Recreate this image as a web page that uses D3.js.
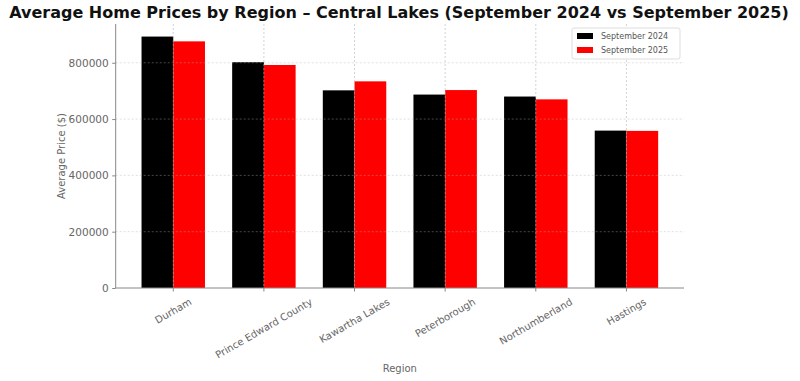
<!DOCTYPE html>
<html><head><meta charset="utf-8">
<script src="https://cdnjs.cloudflare.com/ajax/libs/d3/7.8.5/d3.min.js"></script>
<style>body{margin:0;background:#fff}svg{display:block}</style>
</head><body><svg id="c" width="800" height="381"></svg>
<script>
const regions = ["Durham","Prince Edward County","Kawartha Lakes","Peterborough","Northumberland","Hastings"];
const sep2024 = [893000, 802000, 702000, 687000, 680000, 559000];
const sep2025 = [876000, 792000, 734000, 703000, 670000, 558000];
const seriesNames = ["September 2024","September 2025"];
const seriesColors = ["#000000","#ff0000"];
const yTicks = [0,200000,400000,600000,800000];

(function(){
const svg = d3.select("#c");
const F = "DejaVu Sans, sans-serif";
const pL = 115.7, pR = 684, pT = 24, pB = 288;

const x = d3.scaleLinear().domain([-0.635, regions.length - 1 + 0.635]).range([pL, pR]);
const bw = 0.35;
const ymax = d3.max(sep2024.concat(sep2025)) * 1.05;
const y = d3.scaleLinear().domain([0, ymax]).range([pB, pT]);

const data = [sep2024, sep2025];
data.forEach((vals, s) => {
  svg.append("g").selectAll("rect").data(vals).join("rect")
    .attr("x", (d,i) => x(i + (s === 0 ? -bw : 0)))
    .attr("width", x(bw) - x(0))
    .attr("y", d => y(d))
    .attr("height", d => y(0) - y(d))
    .attr("fill", seriesColors[s]);
});

const grid = svg.append("g").attr("stroke", "#b0b0b0").attr("stroke-opacity", 0.5)
  .attr("stroke-dasharray", "2,2").attr("stroke-width", 0.8);
yTicks.filter(t => t > 0).forEach(t => grid.append("line").attr("x1", pL).attr("x2", pR).attr("y1", y(t)).attr("y2", y(t)));
regions.forEach((r,i) => grid.append("line").attr("x1", x(i)).attr("x2", x(i)).attr("y1", pT).attr("y2", pB).attr("stroke-opacity", 0.7));

const yAxis = svg.append("g").attr("transform", `translate(${pL},0)`)
  .call(d3.axisLeft(y).tickValues(yTicks).tickFormat(d3.format("d")).tickSize(3.5).tickPadding(3.5));
yAxis.select(".domain").attr("stroke", "#888").attr("d", `M0,${pT}V${pB}`);
yAxis.selectAll(".tick line").attr("stroke", "#888");
yAxis.selectAll("text").attr("font-family", F).attr("font-size", 10.5).attr("fill", "#666");

const xAxisG = svg.append("g").attr("transform", `translate(0,${pB})`);
xAxisG.append("line").attr("x1", pL).attr("x2", pR).attr("y1", 0).attr("y2", 0).attr("stroke", "#888");
regions.forEach((r,i) => {
  xAxisG.append("line").attr("x1", x(i)).attr("x2", x(i)).attr("y1", 0).attr("y2", 3.5).attr("stroke", "#888");
  const t = xAxisG.append("text").text(r).attr("font-family", F).attr("font-size", 10).attr("fill", "#666")
    .attr("text-anchor", "middle").attr("dominant-baseline", "central");
  const L = t.node().getComputedTextLength();
  const h = 10;
  const a = Math.PI / 6;
  const bh = L * Math.sin(a) + h * Math.cos(a);
  const cy = 8.5 + bh / 2;
  t.attr("x", x(i)).attr("y", cy).attr("transform", `rotate(-30,${x(i)},${cy})`);
});

svg.append("text").text("Average Home Prices by Region – Central Lakes (September 2024 vs September 2025)")
  .attr("x", 399).attr("y", 18).attr("text-anchor", "middle").attr("font-family", F)
  .attr("font-weight", "bold").attr("font-size", 16).attr("fill", "#111");
svg.append("text").text("Average Price ($)").attr("font-family", F).attr("font-size", 10).attr("fill", "#666")
  .attr("text-anchor", "middle").attr("transform", `translate(65,${(pT+pB)/2}) rotate(-90)`);
svg.append("text").text("Region").attr("font-family", F).attr("font-size", 10).attr("fill", "#666")
  .attr("text-anchor", "middle").attr("x", (pL+pR)/2).attr("y", 372);

const lg = svg.append("g").attr("transform", "translate(572,28)");
lg.append("rect").attr("width", 108).attr("height", 31).attr("rx", 2).attr("fill", "#fff")
  .attr("fill-opacity", 0.85).attr("stroke", "#ddd");
seriesNames.forEach((n,i) => {
  lg.append("rect").attr("x", 5).attr("y", 5 + i*14).attr("width", 16).attr("height", 6).attr("fill", seriesColors[i]);
  lg.append("text").text(n).attr("x", 29).attr("y", 8 + i*14).attr("dominant-baseline", "central")
    .attr("font-family", F).attr("font-size", 8).attr("fill", "#555");
});
})();
</script></body></html>
